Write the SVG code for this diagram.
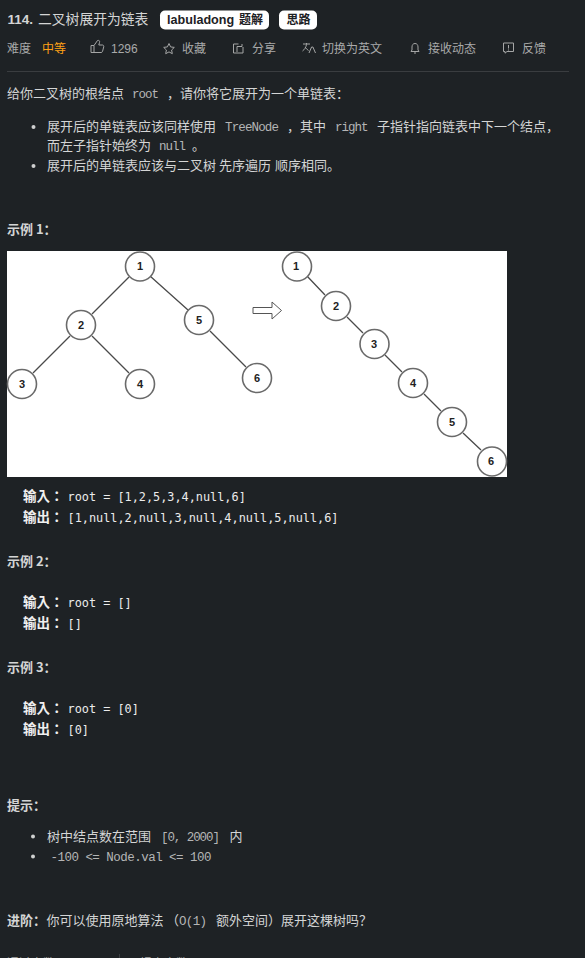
<svg xmlns="http://www.w3.org/2000/svg" width="585" height="958" viewBox="0 0 585 958">
<style>
text{font-family:"Noto Sans CJK SC","Liberation Sans",sans-serif;font-size:13px;fill:#d4d5d5}
.h{font-weight:700}
.m{font-family:"Liberation Mono","Noto Sans CJK SC",monospace;font-size:12.5px;fill:#b4b5b5}
.c{font-family:"DejaVu Sans Mono",monospace;font-size:11.85px;fill:#ececec}
.b{font-weight:700;fill:#f0f0f0;font-size:13.500px}
.cn{font-family:"Noto Sans CJK TC",sans-serif}
.g{fill:#a9aaaa;font-size:12px}
.i{fill:none;stroke:#a5a6a6;stroke-width:1}
.tag{fill:#fff}
.t{fill:#1d2124;font-size:12px;font-weight:700}
.n{fill:#fff;stroke:#6a6a6a;stroke-width:1.6}
.l{font-family:"Liberation Sans",sans-serif;font-size:11px;font-weight:700;fill:#222;text-anchor:middle}
.e{stroke:#4a4a4a;stroke-width:1.300;fill:none}
</style>
<rect width="585" height="958" fill="#1e2225"/>
<g id="header">
<text x="7.500" y="24" class="h" style="font-family:'Liberation Sans',sans-serif;font-size:13.500px">114.</text>
<text x="38" y="24" style="font-size:13.800px">二叉树展开为链表</text>
<rect class="tag" x="160" y="10.500" width="109" height="19" rx="5"/>
<text x="167" y="24" class="t" style="font-family:'Liberation Sans',sans-serif;font-size:12.600px">labuladong</text>
<text x="239" y="24" class="t">题解</text>
<rect class="tag" x="279" y="10.500" width="38" height="19" rx="5"/>
<text x="286.500" y="24" class="t">思路</text>
<text x="7" y="53" class="g">难度</text>
<text x="42" y="53" style="fill:#ffa116;font-size:12px">中等</text>
<path class="i" transform="translate(9,0)" d="M82 52.500h3v-7h-3zM85 45.500l3.500-5c1.500-.5 2.500 .5 2 2l-.7 2.500h3.700c1 0 1.500 1 1.200 2l-1.200 4.500c-.3 .7-.8 1-1.500 1h-7"/>
<text x="111" y="53" class="g" style="font-family:'Liberation Sans',sans-serif">1296</text>
<path class="i" transform="translate(18,0)" d="M151 43.500l1.600 3.400 3.700 .5-2.700 2.600 .7 3.700-3.300-1.800-3.300 1.800 .7-3.700-2.700-2.600 3.700-.5z"/>
<text x="182" y="53" class="g">收藏</text>
<path class="i" transform="translate(24,0)" d="M214.500 44h-5v9h9.500v-6M213 52v-5.500h5v-2.500"/>
<text x="252" y="53" class="g">分享</text>
<g transform="translate(32,0)"><path class="i" d="M271 44h7M274.500 43v1.500c-.5 3-2 5-4 6.500M273 47c1 1.500 2 2.500 3.500 3.500"/>
<path d="M277 53l2.600-6h1.300l2.600 6" class="i"/></g>
<text x="322" y="53" class="g">切换为英文</text>
<path class="i" transform="translate(45,0)" d="M370 43.500c-2 0-3 1.500-3 3.500v3l-1 1.500h8l-1-1.500v-3c0-2-1-3.500-3-3.500zM369 53h2"/>
<text x="428" y="53" class="g">接收动态</text>
<path class="i" transform="translate(53,0)" d="M450.500 43h10v8.500h-6.500l-2 1.700v-1.700h-1.500zM455.500 45v3.500M455.500 49.500v1"/>
<text x="522" y="53" class="g">反馈</text>
<rect x="7" y="71" width="562" height="1" fill="#3a3d40"/>
</g>
<g id="description">
<text x="7" y="98">给你二叉树的根结点</text>
<text x="132" y="98" class="m" textLength="27">root</text>
<text x="167" y="98">，</text>
<text x="180" y="98">请你将它展开为一个单链表：</text>
<circle cx="33.500" cy="127" r="2" fill="#cfd0d0"/>
<text x="47" y="131">展开后的单链表应该同样使用</text>
<text x="225" y="131" class="m" textLength="54">TreeNode</text>
<text x="287" y="131">，</text>
<text x="300" y="131">其中</text>
<text x="335" y="131" class="m" textLength="33.500">right</text>
<text x="377" y="131">子指针指向链表中下一个结点，</text>
<text x="47" y="150">而左子指针始终为</text>
<text x="159" y="150" class="m" textLength="27">null</text>
<text x="192" y="150">。</text>
<circle cx="33.500" cy="166" r="2" fill="#cfd0d0"/>
<text x="47" y="170">展开后的单链表应该与二叉树</text>
<text x="219" y="170">先序遍历</text>
<text x="275" y="170">顺序相同。</text>
<text x="7" y="234" class="h">示例 1：</text>
</g>
<g id="tree-image">
<rect x="7" y="251" width="500" height="226" fill="#fff"/>
<g id="connectors">
<path class="e" d="M129 277L92 314M150 276L188 310M70 336L33 373M92 336L129 373M210 331L246 367M307 276L325 295M347 317L363 333M385 355L402 372M424 394L441 411M463 433L481 450"/>
</g>
<path id="arrow" d="M253 307.500h19v-5.500l9.500 8.500-9.500 8.500v-5.500h-19z" fill="#fff" stroke="#555" stroke-width="1"/>
<g id="n1"><circle class="n" cx="140" cy="266.500" r="14.500"/><text class="l" x="140" y="270">1</text></g>
<g id="n2"><circle class="n" cx="81" cy="325" r="14.500"/><text class="l" x="81" y="329">2</text></g>
<g id="n5"><circle class="n" cx="199" cy="320" r="14.500"/><text class="l" x="199" y="324">5</text></g>
<g id="n3"><circle class="n" cx="22" cy="384" r="14.500"/><text class="l" x="22" y="388">3</text></g>
<g id="n4"><circle class="n" cx="140" cy="384" r="14.500"/><text class="l" x="140" y="388">4</text></g>
<g id="n6"><circle class="n" cx="257" cy="378" r="14.500"/><text class="l" x="257" y="382">6</text></g>
<g id="r1"><circle class="n" cx="297" cy="266.500" r="14.500"/><text class="l" x="296" y="270">1</text></g>
<g id="r2"><circle class="n" cx="336" cy="306" r="14.500"/><text class="l" x="336" y="310">2</text></g>
<g id="r3"><circle class="n" cx="374.500" cy="344" r="14.500"/><text class="l" x="374" y="348">3</text></g>
<g id="r4"><circle class="n" cx="413" cy="383" r="14.500"/><text class="l" x="413" y="387">4</text></g>
<g id="r5"><circle class="n" cx="452" cy="422" r="14.500"/><text class="l" x="452" y="426">5</text></g>
<g id="r6"><circle class="n" cx="492" cy="461.500" r="14.500"/><text class="l" x="491" y="465">6</text></g>
</g>
<g id="examples">
<text x="23" y="501" class="b cn">输入：</text><text x="67.500" y="501" class="c">root = [1,2,5,3,4,null,6]</text>
<text x="23" y="522" class="b cn">输出：</text><text x="67.500" y="522" class="c">[1,null,2,null,3,null,4,null,5,null,6]</text>
<text x="7" y="566" class="h">示例 2：</text>
<text x="23" y="607" class="b cn">输入：</text><text x="67.500" y="607" class="c">root = []</text>
<text x="23" y="628" class="b cn">输出：</text><text x="67.500" y="628" class="c">[]</text>
<text x="7" y="672" class="h">示例 3：</text>
<text x="23" y="713" class="b cn">输入：</text><text x="67.500" y="713" class="c">root = [0]</text>
<text x="23" y="734" class="b cn">输出：</text><text x="67.500" y="734" class="c">[0]</text>
</g>
<g id="notes">
<text x="7" y="810" class="h">提示：</text>
<circle cx="33" cy="836.500" r="2" fill="#cfd0d0"/>
<text x="47" y="841">树中结点数在范围</text>
<text x="161" y="841" class="m" textLength="59">[0, 2000]</text>
<text x="229.500" y="841">内</text>
<circle cx="33" cy="856.500" r="2" fill="#cfd0d0"/>
<text x="50.500" y="861" class="m" textLength="161">-100 &lt;= Node.val &lt;= 100</text>
<text x="7" y="925" class="h">进阶：</text>
<text x="46.500" y="925">你可以使用原地算法</text>
<text x="166" y="925">（</text>
<text x="179" y="925" class="m" textLength="28">O(1)</text>
<text x="216" y="925">额外空间）展开这棵树吗？</text>
</g>
<g id="footer">
<rect x="119" y="954" width="1" height="4" fill="#3a3d40"/>
<text x="7" y="968" class="g">通过次数</text>
<text x="64" y="968" class="h" style="font-family:'Liberation Sans',sans-serif;font-size:12px">380,391</text>
<text x="140" y="968" class="g">提交次数</text>
<text x="195" y="968" class="h" style="font-family:'Liberation Sans',sans-serif;font-size:12px">611,107</text>
</g>
</svg>
